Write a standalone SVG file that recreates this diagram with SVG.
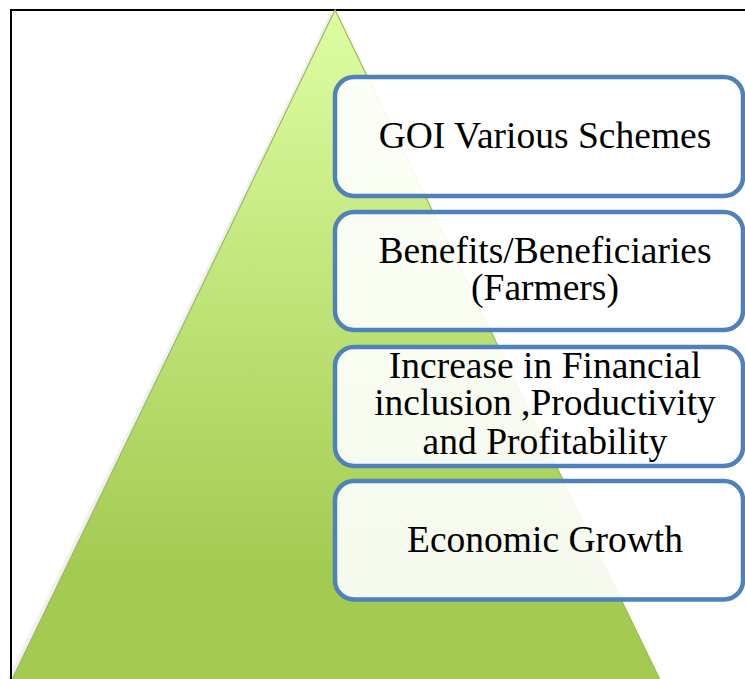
<svg xmlns="http://www.w3.org/2000/svg" width="745" height="679" viewBox="0 0 745 679">
<style>
.box{fill:#ffffff;fill-opacity:0.9;stroke:#4F81BD;stroke-width:4.5}
.lbl{font-family:"Liberation Serif","Times New Roman",serif;font-size:37.5px;fill:#000;text-anchor:middle}
</style>
<defs>
<linearGradient id="tg" gradientUnits="userSpaceOnUse" x1="0" y1="10" x2="0" y2="570">
<stop offset="0" stop-color="#DDFEA2"/>
<stop offset="1" stop-color="#A3CB51"/>
</linearGradient>
</defs>
<rect x="0" y="0" width="745" height="679" fill="#ffffff"/>
<path d="M11,679 V10 H745" fill="none" stroke="#000" stroke-width="2"/>
<g id="pyramid">
<polygon points="333,12 4,690 664,690" fill="#000" fill-opacity="0.06" transform="translate(-3,2)"/>
<polygon points="335,10 7,690 665,690" fill="url(#tg)" stroke="#9BBB59" stroke-width="1.2"/>
</g>
<g id="node1">
<rect class="box" x="335" y="77" width="408" height="119" rx="19"/>
<text class="lbl" x="545" y="148">GOI Various Schemes</text>
</g>
<g id="node2">
<rect class="box" x="335" y="212" width="408" height="118" rx="19"/>
<text class="lbl" x="545" y="263">Benefits/Beneficiaries</text>
<text class="lbl" x="545" y="300">(Farmers)</text>
</g>
<g id="node3">
<rect class="box" x="335" y="347" width="408" height="119" rx="19"/>
<text class="lbl" x="545" y="378">Increase in Financial</text>
<text class="lbl" x="545" y="415">inclusion ,Productivity</text>
<text class="lbl" x="545" y="454">and Profitability</text>
</g>
<g id="node4">
<rect class="box" x="335" y="481" width="408" height="118.5" rx="19"/>
<text class="lbl" x="545" y="552">Economic Growth</text>
</g>
<g id="connectors"></g>
</svg>
